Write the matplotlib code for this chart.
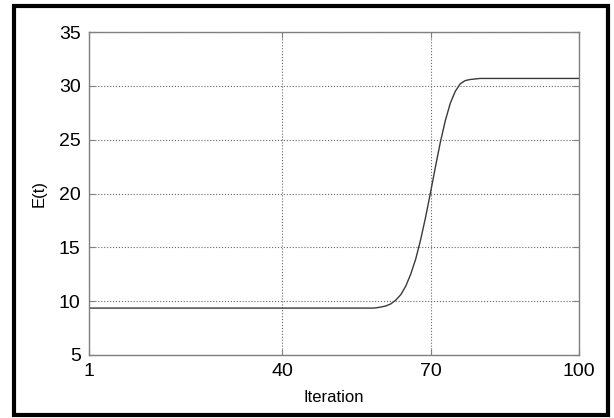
import matplotlib
matplotlib.use("Agg")
import matplotlib.pyplot as plt
from matplotlib.patches import Rectangle

# E(t) at the knots of the curve
iterations = [1, 58, 59, 60, 61, 62, 63, 64, 65, 66, 67, 68, 69, 70, 71, 72,
              73, 74, 75, 76, 77, 78, 79, 80, 100]
energy = [9.35, 9.35, 9.37, 9.45, 9.55, 9.75, 10.1, 10.6, 11.4, 12.5, 13.9,
          15.7, 17.8, 20.1, 22.5, 24.8, 26.8, 28.4, 29.5, 30.2, 30.5, 30.6,
          30.65, 30.7, 30.7]

x_ticks = [1, 40, 70, 100]
y_ticks = [5, 10, 15, 20, 25, 30, 35]

plt.rcParams['font.family'] = ['Liberation Sans', 'DejaVu Sans']

fig = plt.figure(figsize=(6.14, 4.18), dpi=100)
ax = fig.add_axes([0.145, 0.151, 0.798, 0.772])

ax.plot(iterations, energy, color='#3a3a3a', linewidth=1.0)

ax.set_xlim(1, 100)
ax.set_ylim(5, 35)
ax.set_xticks(x_ticks)
ax.set_yticks(y_ticks)
ax.tick_params(direction='in', length=4, color='#808080', labelsize=14,
               top=True, right=True)
ax.tick_params(axis='x', pad=6)
ax.tick_params(axis='y', pad=6)
for s in ax.spines.values():
    s.set_color('#808080')
    s.set_linewidth(1.0)
ax.grid(True, linestyle=':', color='#666666', linewidth=0.8)

ax.set_xlabel("Iteration", fontsize=12, labelpad=7)
ax.set_ylabel("E(t)", fontsize=12, labelpad=9)

# black frame round the whole figure
fig.patches.append(Rectangle((0.022, 0.008), 0.969, 0.978, transform=fig.transFigure,
                             fill=False, edgecolor='black', linewidth=3))

fig.savefig("out.png", dpi=100)
